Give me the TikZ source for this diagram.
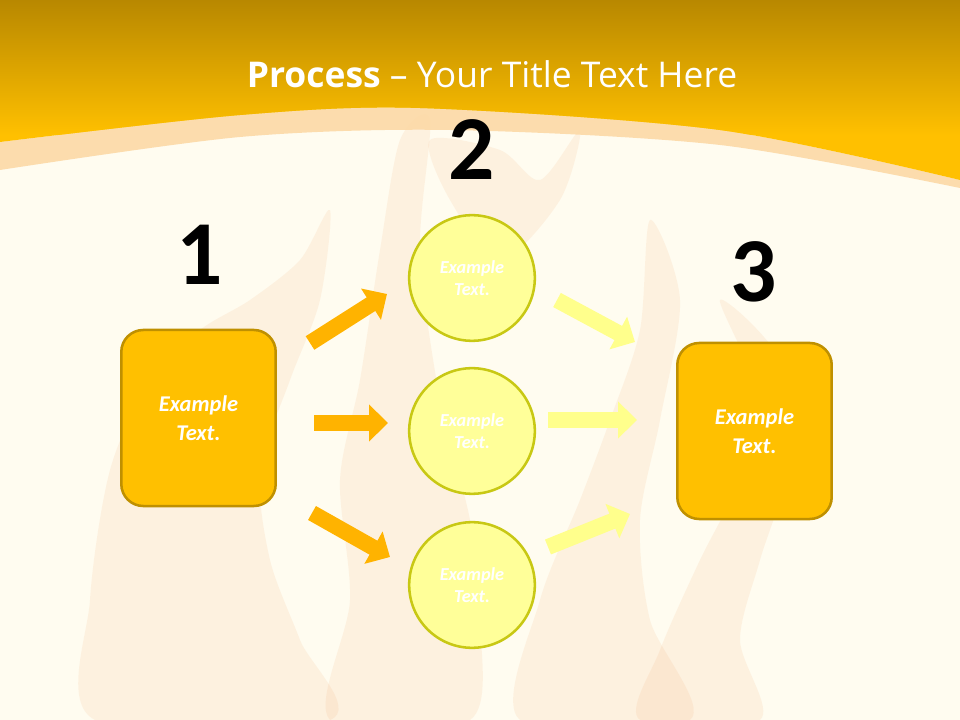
\documentclass[tikz,border=0pt]{standalone}
\usepackage{fontspec}
\newfontfamily\calib{Carlito}
\newfontfamily\opensans{Open Sans}
\usetikzlibrary{arrows.meta}
\usetikzlibrary{shapes.geometric}
\definecolor{bandtop}{HTML}{B88800}
\definecolor{bandlow}{HTML}{FFC000}
\definecolor{stripe}{HTML}{FCD9A6}
\definecolor{paper}{HTML}{FFFCF0}
\definecolor{flame}{HTML}{F4A46A}
\definecolor{boxfill}{HTML}{FFC000}
\definecolor{boxline}{HTML}{BF9000}
\definecolor{ballfill}{HTML}{FFFF99}
\definecolor{ballline}{HTML}{C8C814}
\definecolor{leftarr}{HTML}{FFB300}
\definecolor{rightarr}{HTML}{FFFF8C}

\begin{document}
\begin{tikzpicture}[x=0.025cm, y=-0.025cm,
	stepbox/.style={draw=boxline,line width=1.8pt,fill=boxfill,rounded corners=0.55cm,
		minimum width=3.86cm,minimum height=4.4cm,align=center,text=white,
		font=\calib\bfseries\itshape\fontsize{16}{20.6}\selectfont},
	ball/.style={draw=ballline,line width=1.8pt,fill=ballfill,circle,minimum size=3.14cm,
		inner sep=0pt,align=center,text=white,
		font=\calib\bfseries\itshape\fontsize{13}{16}\selectfont},
	num/.style={inner sep=0pt,text=black,font=\calib\bfseries\fontsize{65}{70}\selectfont},
	fatarrow/.style={line width=11.4pt,-{Triangle[width=25.6pt,length=13.5pt]}},
	flamepatch/.style={fill=flame,opacity=0.12,draw=none}]
	\useasboundingbox (0,0) rectangle (960,720);
	\fill[paper] (0,0) rectangle (960,720);
	% flames in the background
	\fill[flamepatch] plot[smooth cycle] coordinates {(95,720) (90,600) (110,470) (150,380)
		(200,330) (250,300) (300,260) (330,210) (320,300) (290,380) (260,470) (270,560) (300,640) (330,720)};
	\fill[flamepatch] plot[smooth cycle] coordinates {(330,720) (350,600) (340,480) (360,380)
		(380,250) (400,140) (430,120) (420,250) (440,400) (470,520) (480,620) (470,720)};
	\fill[flamepatch] plot[smooth cycle] coordinates {(520,720) (540,600) (580,500) (610,420)
		(640,330) (650,220) (680,300) (660,420) (640,520) (650,620) (690,720)};
	\fill[flamepatch] plot[smooth cycle] coordinates {(640,720) (660,650) (700,560) (740,480)
		(760,400) (720,300) (780,360) (790,460) (760,560) (740,640) (760,720)};
	\fill[flamepatch] plot[smooth cycle] coordinates {(430,140) (450,200) (500,260) (560,200)
		(580,130) (540,180) (500,150)};
	% title band
	\fill[stripe,opacity=0.9] plot[smooth] coordinates {(0,142) (240,115) (420,108) (720,130) (960,180)}
		-- plot[smooth] coordinates {(960,188) (720,145) (450,130) (240,137) (0,170)} -- cycle;
	\begin{scope}
		\clip (0,0) -- (960,0)
			-- plot[smooth] coordinates {(960,180) (720,130) (420,108) (240,115) (0,142)} -- cycle;
		\fill[bandlow] (0,0) rectangle (960,200);
		\shade[top color=bandtop,bottom color=bandlow] (0,0) rectangle (960,135);
	\end{scope}
	\node[anchor=base,text=white,font=\opensans\fontsize{25.2}{29}\selectfont] (title) at (492,88)
		{\textbf{Process} – Your Title Text Here};
	% numbers
	\node[num] (n1) at (200,255) {1};
	\node[num] (n2) at (472,150) {2};
	\node[num] (n3) at (754,272) {3};
	% boxes and circles
	\node[stepbox] (src) at (198.5,418) {Example\\Text.};
	\node[stepbox] (dst) at (754.5,431) {Example\\Text.};
	\node[ball] (b1) at (472,278) {Example\\Text.};
	\node[ball] (b2) at (472,431) {Example\\Text.};
	\node[ball] (b3) at (472,585) {Example\\Text.};
	% arrows
	\coordinate (l1a) at (310,343);
	\coordinate (l1b) at (387,294);
	\coordinate (l2a) at (314,423);
	\coordinate (l2b) at (388,423);
	\coordinate (l3a) at (312,513);
	\coordinate (l3b) at (390,557);
	\coordinate (r1a) at (557,300);
	\coordinate (r1b) at (635,342);
	\coordinate (r2a) at (548,420);
	\coordinate (r2b) at (637,420);
	\coordinate (r3a) at (548,547);
	\coordinate (r3b) at (630,514);
	\draw[fatarrow,leftarr] (l1a) -- (l1b);
	\draw[fatarrow,leftarr] (l2a) -- (l2b);
	\draw[fatarrow,leftarr] (l3a) -- (l3b);
	\draw[fatarrow,rightarr] (r1a) -- (r1b);
	\draw[fatarrow,rightarr] (r2a) -- (r2b);
	\draw[fatarrow,rightarr] (r3a) -- (r3b);
\end{tikzpicture}
\end{document}
